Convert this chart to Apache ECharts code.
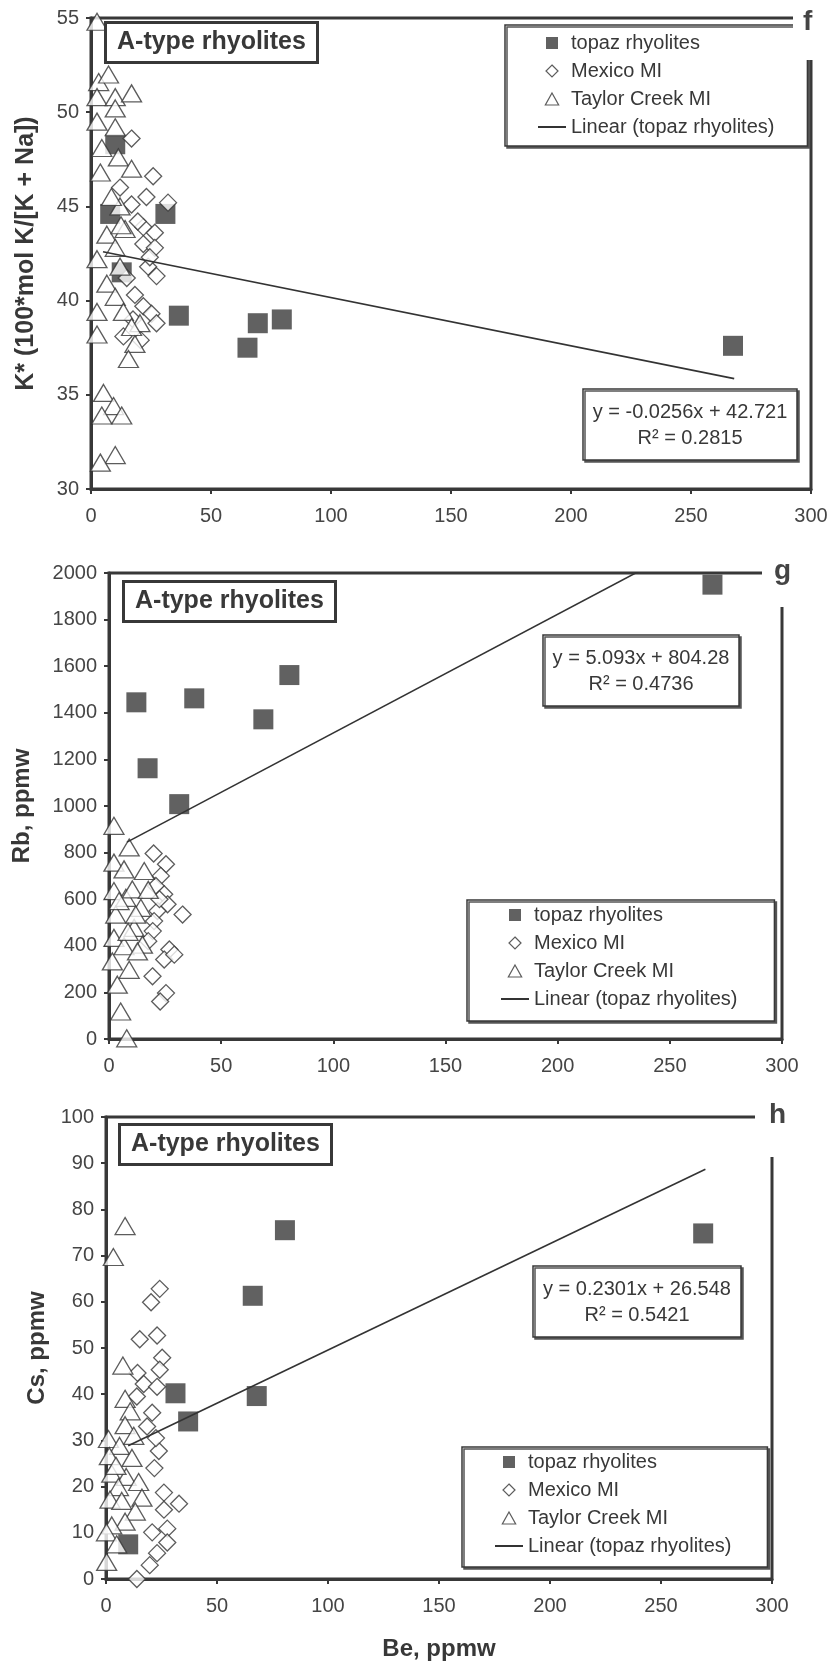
<!DOCTYPE html>
<html>
<head>
<meta charset="utf-8">
<script src="https://cdn.jsdelivr.net/npm/echarts@6/dist/echarts.min.js"></script>
<style>
  html, body { margin: 0; padding: 0; background: #fff; }
  #chart { width: 833px; height: 1667px; }
</style>
</head>
<body>
<div id="chart"></div>
<script>
// ---- Panel f: K* vs Be ----
const topazK = [[10.1,48.3],[8.0,44.6],[31.0,44.6],[12.8,41.5],[36.6,39.2],[65.2,37.5],[69.5,38.8],[79.5,39.0],[267.5,37.6]];
const mexicoK = [[16.9,48.6],[25.9,46.6],[12.1,46.0],[23.1,45.5],[16.9,45.1],[32.1,45.2],[21.8,43.9],[26.6,43.6],[21.8,43.0],[26.6,42.8],[23.8,41.8],[27.3,41.3],[14.9,41.2],[18.3,40.3],[21.8,39.7],[25.2,39.3],[27.3,38.8],[13.5,38.1],[20.7,37.9],[19.5,44.2],[24.5,42.3],[17.5,39.0]];
const taylorK = [[2.5,54.8],[3.2,51.6],[7.3,52.0],[2.5,50.8],[10.1,50.8],[16.9,51.0],[10.1,50.2],[2.5,49.5],[10.1,49.2],[4.5,48.1],[11.4,47.6],[3.9,46.8],[16.9,47.0],[12.1,45.0],[14.2,43.8],[6.6,43.5],[10.1,42.8],[2.5,42.2],[12.1,41.8],[6.6,40.9],[10.1,40.2],[13.5,39.4],[20.4,38.8],[2.5,39.4],[2.5,38.2],[18.3,37.7],[15.6,36.9],[5.2,35.1],[9.4,34.4],[4.5,33.9],[12.8,33.9],[10.1,31.8],[3.9,31.4],[16.9,38.6],[8.5,45.5],[12.5,44.0]];

// ---- Panel g: Rb vs Be ----
const topazRb = [[12.2,1445],[38.0,1462],[17.2,1162],[31.3,1008],[68.8,1372],[80.4,1562],[269,1950]];
const mexicoRb = [[19.9,796],[25.4,750],[23.1,700],[20.9,657],[24.6,621],[26.1,578],[32.8,534],[21.6,549],[20.1,506],[19.5,463],[26.9,384],[24.6,341],[19.4,269],[25.4,197],[22.8,161],[29.1,362],[17.5,420],[22.5,600]];
const taylorRb = [[2.2,915],[9.0,822],[2.2,757],[6.7,728],[15.7,721],[2.2,635],[7.5,606],[14.2,563],[3.0,534],[11.2,477],[2.2,434],[6.7,398],[14.9,405],[1.5,333],[9.0,297],[3.7,233],[5.2,118],[7.9,3],[10.4,642],[11.9,534],[4.5,592],[12.7,376],[17.5,640],[8.5,460]];

// ---- Panel h: Cs vs Be ----
const topazCs = [[31.3,40.2],[37.0,34.1],[66.1,61.3],[80.6,75.5],[67.9,39.6],[269,74.8],[10,7.5]];
const mexicoCs = [[24.2,62.8],[20.3,59.9],[15.2,51.9],[23.0,52.7],[25.3,47.9],[24.2,45.3],[14.2,44.6],[17.0,42.2],[23.0,41.6],[13.9,39.5],[20.8,36.0],[23.8,27.7],[21.8,24.0],[26.1,18.7],[32.9,16.3],[26.1,15.0],[20.8,10.1],[27.6,10.9],[27.6,7.9],[23.0,5.6],[19.7,3.0],[13.9,0.0],[18.5,33.0],[22.5,30.5]];
const taylorCs = [[8.6,76.4],[3.3,69.7],[7.6,46.2],[8.6,39.0],[10.9,36.3],[8.6,33.3],[1.1,30.3],[6.1,28.8],[1.5,26.6],[11.7,26.2],[2.6,22.8],[9.1,22.1],[14.7,21.0],[5.6,19.9],[16.2,17.6],[1.8,17.2],[7.1,16.9],[13.2,14.6],[8.6,12.4],[2.6,11.6],[0.2,10.1],[4.8,7.5],[0.3,3.7],[12.5,31.0],[4.5,24.5]];

// Linear fits through the topaz rhyolite points (one per panel)
const fitSlope = [-0.0256, 5.093, 0.2301];
const fitIntercept = [42.721, 804.28, 26.548];
const fitR2 = ['0.2815', '0.4736', '0.5421'];
const fitXRange = [[5, 268], [8, 236], [10, 270]];

// Axis setup
const panelLetters = ['f', 'g', 'h'];
const yNames = ['K* (100*mol K/[K + Na])', 'Rb, ppmw', 'Cs, ppmw'];
const yMin = [30, 0, 0];
const yMax = [55, 2000, 100];
const yStep = [5, 200, 10];
const xMin = 0, xMax = 300, xStep = 50;
const xName = 'Be, ppmw';
const boxTitle = 'A-type rhyolites';
const seriesNames = ['topaz rhyolites', 'Mexico MI', 'Taylor Creek MI', 'Linear (topaz rhyolites)'];

const topazSets = [topazK, topazRb, topazCs];
const mexicoSets = [mexicoK, mexicoRb, mexicoCs];
const taylorSets = [taylorK, taylorRb, taylorCs];

const INK = '#383838';
const FONT = '"Liberation Sans", Arial, Helvetica, sans-serif';

const grids = [
  { left: 91, top: 18, width: 720, height: 471 },
  { left: 109, top: 573, width: 673, height: 466 },
  { left: 106, top: 1117, width: 666, height: 462 }
];
const yNameGap = [52, 75, 54];

function fitEnds(i) {
  return fitXRange[i].map(x => [x, fitSlope[i] * x + fitIntercept[i]]);
}
const plain = v => String(v);

const xAxes = [], yAxes = [], series = [];
for (let i = 0; i < 3; i++) {
  const axisCommon = {
    type: 'value', gridIndex: i,
    axisLine: { show: true, onZero: false, lineStyle: { color: INK, width: 3 } },
    axisTick: { show: true, inside: false, length: 5, lineStyle: { color: INK, width: 2 } },
    splitLine: { show: false }
  };
  xAxes.push(Object.assign({}, axisCommon, {
    min: xMin, max: xMax, interval: xStep,
    axisLabel: { fontSize: 20, color: '#454545', margin: 17, fontFamily: FONT, formatter: plain },
    name: i === 2 ? xName : '',
    nameLocation: 'middle', nameGap: 58,
    nameTextStyle: { fontSize: 24, fontWeight: 'bold', color: INK, fontFamily: FONT }
  }));
  yAxes.push(Object.assign({}, axisCommon, {
    min: yMin[i], max: yMax[i], interval: yStep[i],
    axisLabel: { fontSize: 20, color: '#454545', margin: 12, fontFamily: FONT, formatter: plain },
    name: yNames[i], nameLocation: 'middle', nameGap: yNameGap[i],
    nameTextStyle: { fontSize: i === 0 ? 25 : 24, fontWeight: 'bold', color: INK, fontFamily: FONT }
  }));

  series.push({
    name: seriesNames[0], type: 'scatter', xAxisIndex: i, yAxisIndex: i,
    data: topazSets[i], symbol: 'rect', symbolSize: 20, clip: false,
    itemStyle: { color: '#3a3a3a' }, z: 2
  });
  series.push({
    name: seriesNames[1], type: 'scatter', xAxisIndex: i, yAxisIndex: i,
    data: mexicoSets[i], symbol: 'diamond', symbolSize: [17, 17], clip: false,
    itemStyle: { color: '#fff', borderColor: '#333', borderWidth: 1.3 }, z: 2
  });
  series.push({
    name: seriesNames[2], type: 'scatter', xAxisIndex: i, yAxisIndex: i,
    data: taylorSets[i], symbol: 'triangle', symbolSize: [20, 17], clip: false,
    itemStyle: { color: '#fff', borderColor: '#333', borderWidth: 1.3 }, z: 2
  });
  series.push({
    name: seriesNames[3], type: 'line', xAxisIndex: i, yAxisIndex: i,
    data: fitEnds(i), symbol: 'line', showSymbol: false, clip: true,
    lineStyle: { color: '#333', width: 1.6 }, itemStyle: { color: '#333' }, z: 3
  });
}

// Boxed panel titles, regression labels and panel letters
const boxPos = [[105, 22], [123, 581], [119, 1124]];
const eqPos = [[690, 389], [641, 635], [637, 1266]];
const letterBox = [
  { left: 793, top: 0, padding: [8, 14, 24, 10] },
  { left: 762, top: 540, padding: [17, 20, 22, 12] },
  { left: 755, top: 1090, padding: [11, 20, 28, 14] }
];
const titles = [];
for (let i = 0; i < 3; i++) {
  titles.push({
    text: boxTitle, left: boxPos[i][0], top: boxPos[i][1], textAlign: 'left',
    padding: [6, 12, 7, 12], borderColor: INK, borderWidth: 3, backgroundColor: '#fff',
    textStyle: { fontSize: 25, fontWeight: 'bold', color: INK, lineHeight: 28, fontFamily: FONT }
  });
  const eqText = 'y = ' + fitSlope[i] + 'x + ' + fitIntercept[i];
  titles.push({
    text: eqText, subtext: 'R\u00b2 = ' + fitR2[i],
    left: eqPos[i][0] - 10, top: eqPos[i][1], textAlign: 'center',
    padding: [12, 10, 11, 10], itemGap: 4,
    borderColor: INK, borderWidth: 1.5, backgroundColor: '#fff',
    shadowColor: '#555', shadowOffsetX: 2, shadowOffsetY: 2, shadowBlur: 0,
    textStyle: { fontSize: 20, fontWeight: 'normal', color: INK, lineHeight: 22, fontFamily: FONT },
    subtextStyle: { fontSize: 20, color: INK, lineHeight: 22, fontFamily: FONT }
  });
  titles.push(Object.assign({
    text: panelLetters[i], textAlign: 'left', backgroundColor: '#fff',
    textStyle: { fontSize: 28, fontWeight: 'bold', color: '#444', lineHeight: 28, fontFamily: FONT }
  }, letterBox[i]));
}

// Legend boxes; marker icons are kept square inside the wider item slot
const legendIcons = [
  'path://M0,0H10V10H0Z',
  'path://M5,0L10,5L5,10L0,5Z',
  'path://M5,0L10,9L0,9Z'
];
const legendData = [
  { name: seriesNames[0], icon: legendIcons[0] },
  { name: seriesNames[1], icon: legendIcons[1] },
  { name: seriesNames[2], icon: legendIcons[2] },
  { name: seriesNames[3] }
];
const legendPos = [
  { left: 505, top: 25, padding: [8, 33, 9, 32] },
  { left: 467, top: 900, padding: [5, 37, 12, 33] },
  { left: 462, top: 1447, padding: [5, 36, 11, 32] }
];
const legends = legendPos.map(p => Object.assign({
  orient: 'vertical', data: legendData,
  itemGap: 8, itemWidth: 28, itemHeight: 12, selectedMode: false, symbolKeepAspect: true,
  itemStyle: { borderWidth: 1.2 },
  textStyle: { fontSize: 20, color: INK, lineHeight: 20, fontFamily: FONT },
  borderColor: INK, borderWidth: 1.5, backgroundColor: '#fff',
  shadowColor: '#555', shadowOffsetX: 2, shadowOffsetY: 2, shadowBlur: 0
}, p));

const chart = echarts.init(document.getElementById('chart'), null, { renderer: 'canvas' });
chart.setOption({
  backgroundColor: '#fff',
  animation: false,
  textStyle: { fontFamily: FONT },
  title: titles,
  legend: legends,
  grid: grids.map(g => Object.assign({ show: true, borderColor: INK, borderWidth: 3, backgroundColor: 'transparent' }, g)),
  xAxis: xAxes,
  yAxis: yAxes,
  series: series
});
</script>
</body>
</html>
